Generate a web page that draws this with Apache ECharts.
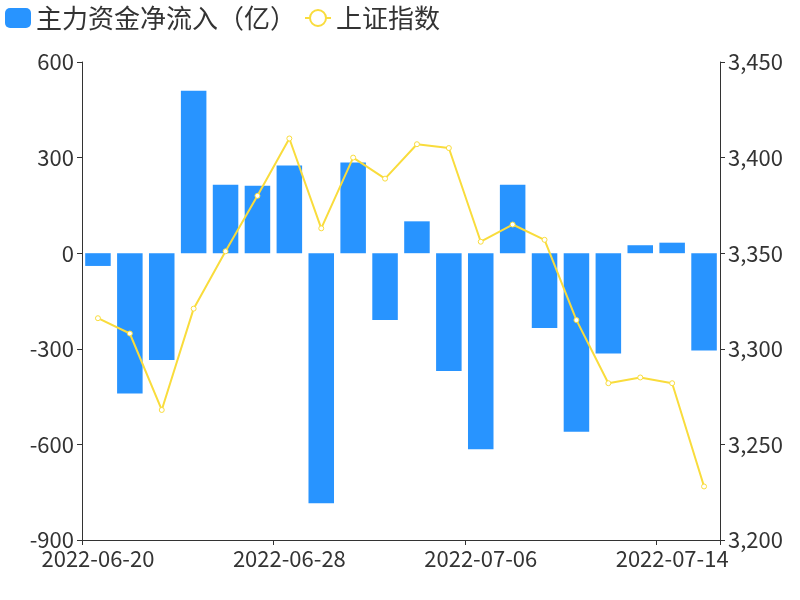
<!DOCTYPE html>
<html><head><meta charset="utf-8">
<script src="https://cdn.jsdelivr.net/npm/echarts@6/dist/echarts.min.js"></script>
<style>html,body{margin:0;background:#fff}#c{width:800px;height:600px}</style>
</head><body><div id="c"></div>
<script>
const dates = ['2022-06-20','2022-06-21','2022-06-22','2022-06-23','2022-06-24','2022-06-27','2022-06-28','2022-06-29','2022-06-30','2022-07-01',
  '2022-07-04','2022-07-05','2022-07-06','2022-07-07','2022-07-08','2022-07-11','2022-07-12','2022-07-13','2022-07-14','2022-07-15'];
const flow = [-40,-440,-335,510,215,212,275,-785,285,-210,100,-370,-615,215,-235,-560,-315,25,33,-305];
const sh = [3316,3308,3268,3321,3351,3380,3410,3363,3400,3389,3407,3405,3356,3365,3357,3315,3282,3285,3282,3228];

const chart = echarts.init(document.getElementById('c'));
const font = 'Noto Sans CJK SC';
chart.setOption({
  textStyle: {fontFamily: font},
  legend: {top: 0, left: 0, itemWidth: 26, itemHeight: 20, textStyle: {fontSize: 26, color: '#333', fontFamily: font},
    data: ['主力资金净流入（亿）', '上证指数']},
  grid: {left: 82, right: 80, top: 62, bottom: 60},
  xAxis: [
    {type: 'category', data: dates, position: 'bottom', axisLine: {show: false}, axisTick: {show: false},
     axisLabel: {interval: 5, fontSize: 22, color: '#333'}},
    {type: 'category', data: dates, position: 'bottom', axisLine: {onZero: true, lineStyle: {color: '#333'}},
     axisTick: {show: true, interval: 5}, axisLabel: {show: false}}
  ],
  yAxis: [
    {type: 'value', min: -900, max: 600, interval: 300, axisLine: {show: true, lineStyle: {color: '#333'}},
     axisTick: {show: true}, splitLine: {show: false}, axisLabel: {fontSize: 22, color: '#333'}},
    {type: 'value', min: 3200, max: 3450, interval: 50, axisLine: {show: true, lineStyle: {color: '#333'}},
     axisTick: {show: true}, splitLine: {show: false}, axisLabel: {fontSize: 22, color: '#333'}}
  ],
  series: [
    {name: '主力资金净流入（亿）', type: 'bar', data: flow, xAxisIndex: 1, yAxisIndex: 0, barWidth: '80%',
     itemStyle: {color: '#2894ff'}},
    {name: '上证指数', type: 'line', data: sh, xAxisIndex: 1, yAxisIndex: 1, symbol: 'circle', symbolSize: 5,
     itemStyle: {color: '#fff', borderColor: '#f9dc3c', borderWidth: 1}, lineStyle: {color: '#f9dc3c', width: 2}}
  ]
});
</script></body></html>
